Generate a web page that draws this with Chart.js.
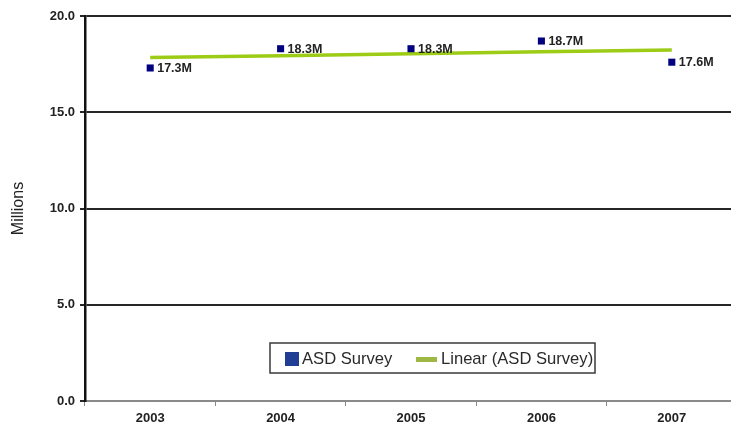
<!DOCTYPE html>
<html>
<head>
<meta charset="utf-8">
<script src="https://cdn.jsdelivr.net/npm/chart.js@4"></script>
<style>
  html, body { margin: 0; padding: 0; background: #fff; overflow: hidden; }
  #wrap { width: 742px; height: 428px; }
</style>
</head>
<body>
<div id="wrap"><canvas id="chart_area" width="742" height="428"></canvas></div>
<script>
'use strict';

//Data
var years = ['2003', '2004', '2005', '2006', '2007'];
var asdSurvey = [17.3, 18.3, 18.3, 18.7, 17.6];        //Millions
var linearTrend = [17.84, 17.94, 18.04, 18.14, 18.24]; //Linear fit of asdSurvey
var yMin = 0, yMax = 20, yStep = 5;

var FONT = '"Liberation Sans", Arial, Helvetica, sans-serif';

//Value labels next to each survey point
var valueLabels = {
    id: 'valueLabels',
    afterDatasetsDraw: function(chart){
        var ctx = chart.ctx;
        var meta = chart.getDatasetMeta(1);
        ctx.save();
        ctx.fillStyle = '#222';
        ctx.font = 'bold 12.5px ' + FONT;
        ctx.textBaseline = 'middle';
        ctx.textAlign = 'left';
        meta.data.forEach(function(pt, i){
            ctx.fillText(asdSurvey[i].toFixed(1) + 'M', pt.x + 7, pt.y + 0.5);
        });
        ctx.restore();
    }
};

//Boxed legend inside the plot
var boxLegend = {
    id: 'boxLegend',
    afterDraw: function(chart){
        var ctx = chart.ctx;
        var area = chart.chartArea;
        var x = area.left + 185, y = area.bottom - 58, w = 325, h = 30;
        ctx.save();
        ctx.fillStyle = '#fff';
        ctx.fillRect(x, y, w, h);
        ctx.strokeStyle = '#3a3a3a';
        ctx.lineWidth = 1.5;
        ctx.strokeRect(x, y, w, h);

        ctx.fillStyle = '#213e95';
        ctx.fillRect(x + 15, y + 9, 14, 14);
        ctx.fillStyle = '#2a2a2a';
        ctx.font = '16.6px ' + FONT;
        ctx.textBaseline = 'middle';
        ctx.fillText(chart.data.datasets[1].label, x + 32, y + 16);

        ctx.fillStyle = '#9fb844';
        ctx.fillRect(x + 146, y + 14, 21, 5);
        ctx.fillStyle = '#2a2a2a';
        ctx.fillText(chart.data.datasets[0].label, x + 171, y + 16);
        ctx.restore();
    }
};

var config = {
    type: 'line',
    data: {
        labels: years,
        datasets: [
            {
                label: 'Linear (ASD Survey)',
                data: linearTrend,
                borderColor: '#9ccc16',
                borderWidth: 3.5,
                pointRadius: 0,
                tension: 0,
                order: 2
            },
            {
                label: 'ASD Survey',
                data: asdSurvey,
                showLine: false,
                pointStyle: 'rect',
                pointRadius: 5,
                pointBackgroundColor: '#000080',
                pointBorderWidth: 0,
                order: 1
            }
        ]
    },
    options: {
        responsive: false,
        animation: false,
        devicePixelRatio: 1,
        layout: { padding: { left: 0, right: 2, top: 16, bottom: 0 } },
        plugins: {
            legend: { display: false },
            tooltip: { enabled: false }
        },
        scales: {
            x: {
                offset: true,
                grid: {
                    offset: true,
                    drawOnChartArea: false,
                    tickLength: 5,
                    color: '#888',
                    lineWidth: 1
                },
                border: { color: '#8a8a8a', width: 2 },
                ticks: {
                    padding: 5,
                    color: '#222',
                    font: { family: FONT, size: 13, weight: 'bold' }
                },
                afterFit: function(scale){ scale.height = 27; }
            },
            y: {
                min: yMin,
                max: yMax,
                grid: {
                    color: '#262626',
                    lineWidth: 2,
                    tickLength: 5
                },
                border: { color: '#111', width: 2.5 },
                ticks: {
                    stepSize: yStep,
                    padding: 5,
                    color: '#222',
                    font: { family: FONT, size: 13, weight: 'bold' },
                    callback: function(v){ return Number(v).toFixed(1); }
                },
                title: {
                    display: true,
                    text: 'Millions',
                    color: '#222',
                    padding: { top: 9, bottom: 0 },
                    font: { family: FONT, size: 16 }
                },
                afterFit: function(scale){ scale.width = 85; }
            }
        }
    },
    plugins: [valueLabels, boxLegend]
};

var ctx = document.getElementById('chart_area').getContext('2d');
window.myLine = new Chart(ctx, config);
</script>
</body>
</html>
